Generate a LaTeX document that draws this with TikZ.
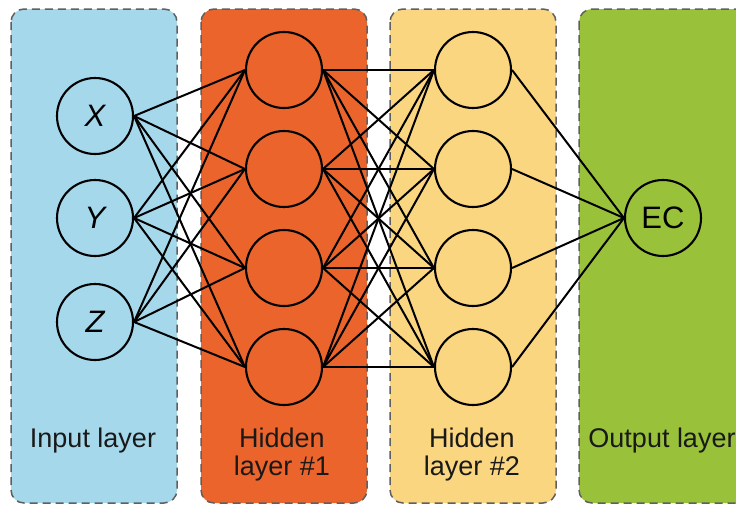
\documentclass[tikz,border=0pt]{standalone}
\usepackage{fontspec}
\setmainfont{Liberation Sans}
\usetikzlibrary{positioning}

\definecolor{inblue}{RGB}{166,216,236}
\definecolor{hidorange}{RGB}{234,100,44}
\definecolor{hidyellow}{RGB}{250,214,128}
\definecolor{outgreen}{RGB}{153,194,58}
\definecolor{framegray}{RGB}{95,95,95}

\begin{document}
\begin{tikzpicture}[x=1pt,y=-1pt,
    layer/.style={draw=framegray,line width=1.5pt,dash pattern=on 8pt off 5pt,rounded corners=13pt},
    neuron/.style={circle,draw,line width=2.1pt,minimum size=76pt,inner sep=0pt,font=\fontsize{31}{33}\selectfont},
    caption/.style={align=center,text=black!90,font=\fontsize{27}{28}\selectfont},
    link/.style={line width=2pt}]
\useasboundingbox (0,0) rectangle (736,507);
\clip (0,0) rectangle (736,507);

% the four coloured layers
\path[layer,fill=inblue]    (11,9)  rectangle (177,503);
\path[layer,fill=hidorange] (201,9) rectangle (367,503);
\path[layer,fill=hidyellow] (390,9) rectangle (556,503);
\path[layer,fill=outgreen]  (579,9) rectangle (760,503);

\path % we place the nodes once
       node[neuron] (i1) at (95,116) {\itshape X}
       node[neuron] (i2) at (95,218) {\itshape Y}
       node[neuron] (i3) at (95,322) {\itshape Z}
       node[neuron] (a1) at (284,70)  {}
       node[neuron] (a2) at (284,169) {}
       node[neuron] (a3) at (284,268) {}
       node[neuron] (a4) at (284,367) {}
       node[neuron] (b1) at (473,70)  {}
       node[neuron] (b2) at (473,169) {}
       node[neuron] (b3) at (473,268) {}
       node[neuron] (b4) at (473,367) {}
       node[neuron] (o)  at (663,218) {EC};

   % layer names
   \node[caption,anchor=base]  (t1) at (93,447)  {Input layer};
   \node[caption,anchor=north] (t2) at (282,424) {Hidden\\layer \#1};
   \node[caption,anchor=north] (t3) at (472,424) {Hidden\\layer \#2};
   \node[caption,anchor=base]  (t4) at (662,447) {Output layer};

   % weights between the layers
   \foreach \i in {1,2,3}
     \foreach \j in {1,...,4}
       \draw[link] (i\i.east) -- (a\j.west);
   \foreach \i in {1,...,4}
     \foreach \j in {1,...,4}
       \draw[link] (a\i.east) -- (b\j.west);
   \foreach \i in {1,...,4}
     \draw[link] (b\i.east) -- (o.west);

\end{tikzpicture}
\end{document}
